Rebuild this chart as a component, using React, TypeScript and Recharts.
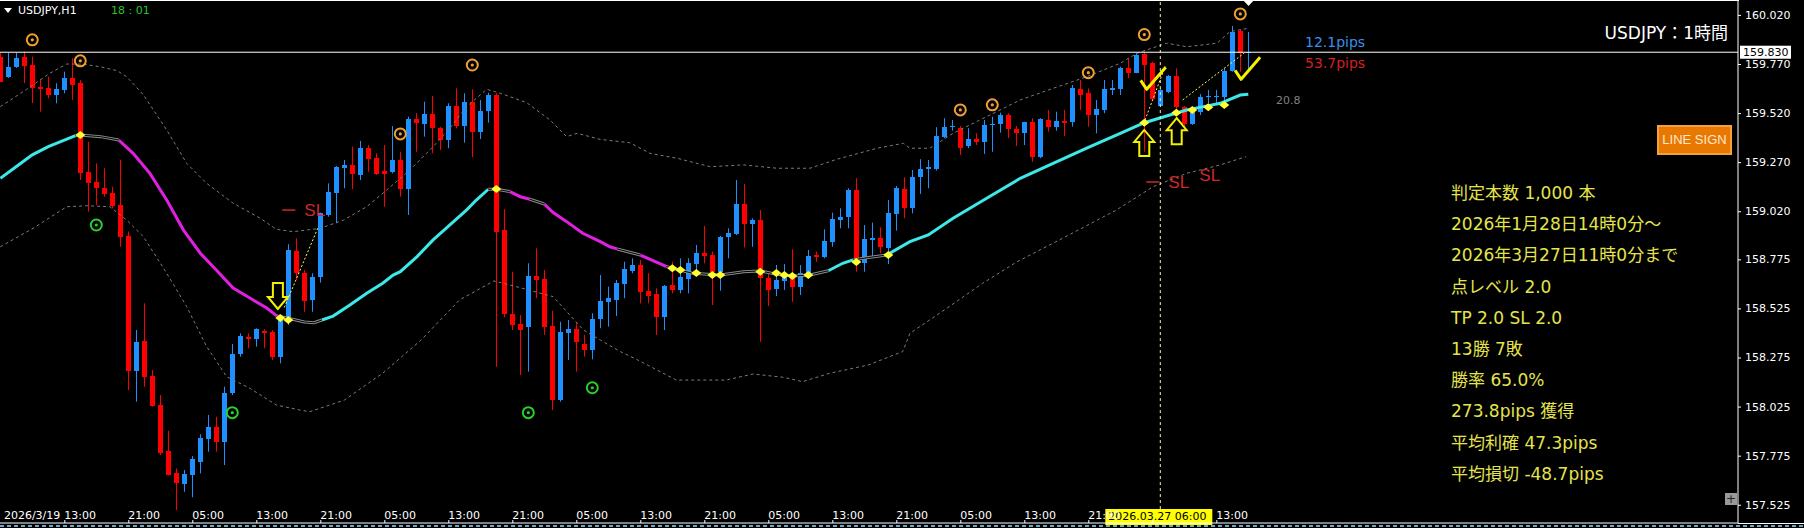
import React from "react";
import { ComposedChart, Bar, Line, Scatter, XAxis, YAxis, ReferenceLine } from "recharts";

const FONT = '"DejaVu Sans", "Noto Sans CJK JP", sans-serif';

// USDJPY H1 bars (index 0 = leftmost bar)
const opens = [
  159.807, 159.705, 159.755, 159.807, 159.765, 159.651, 159.646, 159.612, 159.638, 159.697,
  159.672, 159.221, 159.17, 159.137, 159.111, 159.052, 158.894, 158.208, 158.359, 158.181,
  158.033, 157.799, 157.685, 157.63, 157.676, 157.744, 157.86, 157.919, 157.846, 158.093,
  158.293, 158.378, 158.368, 158.411, 158.405, 158.279, 158.466, 158.817, 158.704, 158.568,
  158.687, 159.001, 159.114, 159.242, 159.255, 159.205, 159.344, 159.293, 159.225, 159.221,
  159.281, 159.133, 159.49, 159.464, 159.515, 159.445, 159.383, 159.558, 159.456, 159.578,
  159.425, 159.532, 159.612, 158.924, 158.497, 158.446, 158.429, 158.69, 158.676, 158.437,
  158.058, 158.398, 158.422, 158.342, 158.313, 158.47, 158.559, 158.568, 158.649, 158.717,
  158.746, 158.615, 158.598, 158.483, 158.644, 158.619, 158.673, 158.751, 158.806, 158.797,
  158.712, 158.887, 158.904, 159.057, 158.955, 158.975, 158.678, 158.622, 158.666, 158.7,
  158.636, 158.695, 158.797, 158.785, 158.865, 158.975, 158.992, 159.128, 158.758, 158.873,
  158.882, 158.831, 159.006, 159.132, 159.038, 159.193, 159.234, 159.234, 159.4, 159.448,
  159.445, 159.352, 159.388, 159.374, 159.458, 159.463, 159.51, 159.437, 159.417, 159.476,
  159.295, 159.485, 159.451, 159.481, 159.476, 159.641, 159.621, 159.51, 159.536, 159.638,
  159.641, 159.748, 159.726, 159.821, 159.774, 159.556, 159.629, 159.709, 159.55, 159.464,
  159.527, 159.6, 159.6, 159.603, 159.736, 159.94, 159.825,
];
const highs = [
  159.826, 159.826, 159.826, 159.833, 159.807, 159.694, 159.705, 159.672, 159.731, 159.799,
  159.688, 159.374, 159.264, 159.239, 159.145, 159.281, 158.916, 158.415, 158.551, 158.211,
  158.084, 157.902, 157.71, 157.702, 157.773, 157.884, 157.982, 157.973, 158.126, 158.344,
  158.398, 158.398, 158.424, 158.419, 158.415, 158.491, 158.852, 158.882, 158.721, 158.704,
  159.013, 159.162, 159.25, 159.281, 159.349, 159.378, 159.357, 159.315, 159.357, 159.454,
  159.323, 159.502, 159.519, 159.578, 159.607, 159.45, 159.57, 159.646, 159.621, 159.641,
  159.587, 159.624, 159.621, 159.03, 158.712, 158.491, 158.755, 158.831, 158.721, 158.513,
  158.457, 158.466, 158.452, 158.39, 158.5, 158.695, 158.636, 158.67, 158.763, 158.78,
  158.772, 158.704, 158.627, 158.644, 158.763, 158.78, 158.78, 158.848, 158.945, 158.814,
  158.894, 158.933, 159.179, 159.159, 158.984, 159.026, 158.704, 158.746, 158.751, 158.826,
  158.746, 158.823, 158.814, 158.928, 159.013, 159.035, 159.137, 159.188, 158.95, 158.962,
  158.938, 159.077, 159.149, 159.193, 159.23, 159.285, 159.281, 159.448, 159.494, 159.485,
  159.454, 159.443, 159.417, 159.485, 159.502, 159.522, 159.519, 159.454, 159.476, 159.494,
  159.494, 159.536, 159.527, 159.536, 159.663, 159.688, 159.646, 159.587, 159.688, 159.688,
  159.756, 159.799, 159.825, 159.833, 159.782, 159.646, 159.714, 159.748, 159.556, 159.553,
  159.617, 159.638, 159.638, 159.748, 159.964, 159.947, 159.933,
];
const lows = [
  159.678, 159.699, 159.75, 159.673, 159.571, 159.527, 159.595, 159.57, 159.621, 159.587,
  159.179, 159.018, 159.052, 159.094, 159.035, 158.839, 158.109, 158.05, 158.126, 158.024,
  157.778, 157.674, 157.498, 157.591, 157.563, 157.685, 157.795, 157.795, 157.727, 158.084,
  158.279, 158.322, 158.33, 158.322, 158.262, 158.245, 158.44, 158.67, 158.508, 158.508,
  158.656, 158.992, 158.959, 159.137, 159.132, 159.179, 159.221, 159.205, 159.043, 159.213,
  159.094, 159.001, 159.323, 159.4, 159.315, 159.332, 159.341, 159.442, 159.369, 159.295,
  159.388, 159.471, 158.228, 158.48, 158.415, 158.186, 158.203, 158.577, 158.39, 158.007,
  158.05, 158.262, 158.203, 158.279, 158.266, 158.424, 158.432, 158.486, 158.577, 158.704,
  158.551, 158.551, 158.39, 158.415, 158.602, 158.602, 158.602, 158.704, 158.755, 158.542,
  158.615, 158.78, 158.899, 158.836, 158.839, 158.355, 158.537, 158.588, 158.619, 158.559,
  158.593, 158.678, 158.763, 158.78, 158.839, 158.933, 158.933, 158.712, 158.712, 158.788,
  158.806, 158.751, 158.921, 158.984, 159.009, 159.108, 159.137, 159.227, 159.392, 159.43,
  159.307, 159.341, 159.357, 159.312, 159.323, 159.42, 159.392, 159.352, 159.357, 159.272,
  159.29, 159.425, 159.43, 159.403, 159.451, 159.536, 159.451, 159.417, 159.519, 159.612,
  159.612, 159.697, 159.723, 159.323, 159.587, 159.553, 159.621, 159.51, 159.443, 159.46,
  159.51, 159.57, 159.561, 159.57, 159.731, 159.731, 159.739,
];
const closes = [
  159.68, 159.756, 159.801, 159.76, 159.648, 159.643, 159.612, 159.641, 159.697, 159.663,
  159.213, 159.162, 159.137, 159.108, 159.048, 158.89, 158.206, 158.355, 158.177, 158.029,
  157.787, 157.676, 157.634, 157.68, 157.756, 157.866, 157.919, 157.846, 158.093, 158.293,
  158.384, 158.368, 158.419, 158.401, 158.279, 158.475, 158.823, 158.704, 158.564, 158.683,
  159.009, 159.12, 159.247, 159.255, 159.21, 159.344, 159.286, 159.21, 159.208, 159.281,
  159.132, 159.49, 159.468, 159.515, 159.442, 159.383, 159.558, 159.456, 159.578, 159.425,
  159.532, 159.612, 158.916, 158.497, 158.44, 158.415, 158.69, 158.67, 158.432, 158.058,
  158.406, 158.422, 158.355, 158.313, 158.473, 158.564, 158.576, 158.656, 158.724, 158.746,
  158.61, 158.588, 158.483, 158.639, 158.619, 158.683, 158.758, 158.806, 158.792, 158.712,
  158.887, 158.911, 159.057, 158.955, 158.975, 158.678, 158.619, 158.67, 158.704, 158.636,
  158.707, 158.792, 158.788, 158.868, 158.979, 158.989, 159.128, 158.758, 158.877, 158.882,
  158.836, 159.009, 159.137, 159.035, 159.196, 159.234, 159.244, 159.403, 159.448, 159.454,
  159.341, 159.386, 159.374, 159.46, 159.464, 159.51, 159.437, 159.42, 159.476, 159.298,
  159.488, 159.451, 159.481, 159.471, 159.646, 159.612, 159.51, 159.539, 159.641, 159.646,
  159.748, 159.726, 159.816, 159.765, 159.59, 159.638, 159.709, 159.55, 159.464, 159.527,
  159.603, 159.607, 159.607, 159.736, 159.935, 159.825, 159.83,
];

const priceTicks = [160.02, 159.77, 159.52, 159.27, 159.02, 158.775, 158.525, 158.275, 158.025, 157.775, 157.525];
const timeTicks = [8, 16, 24, 32, 40, 48, 56, 64, 72, 80, 88, 96, 104, 112, 120, 128, 136, 144, 152];
const timeLabels = [
  "2026/3/19 13:00", "21:00", "05:00", "13:00", "21:00", "05:00", "13:00", "21:00", "05:00", "13:00",
  "21:00", "05:00", "13:00", "21:00", "05:00", "13:00", "21:00", "05:00", "13:00",
];

// moving average, split by colour state: [bar index, price]
const maCyan = [
  [[0, 159.188], [2.1, 159.25], [4, 159.307], [6, 159.349], [9.4, 159.405]],
  [[40.2, 158.466], [41.6, 158.486], [43.7, 158.542], [45.8, 158.602], [47.8, 158.653], [49.1, 158.695],
    [50, 158.712], [52.1, 158.789], [54.1, 158.874], [56.2, 158.95], [58.3, 159.027], [59.5, 159.077], [61, 159.132]],
  [[103.5, 158.717], [105.3, 158.755], [106.6, 158.772]],
  [[110.8, 158.797], [113.7, 158.865], [116, 158.899], [119.1, 158.984], [123.3, 159.086], [127.5, 159.188],
    [131.6, 159.264], [135.8, 159.341], [140, 159.417], [143, 159.471], [146.2, 159.51], [148.3, 159.536],
    [150.4, 159.553], [152.5, 159.57], [155, 159.612], [156, 159.616]],
];
const maMagenta = [
  [[14.8, 159.383], [16.6, 159.315], [18.7, 159.213], [20.8, 159.077], [22.9, 158.924], [25, 158.806],
    [27, 158.721], [29.1, 158.629], [31.2, 158.578], [33.3, 158.527], [34.6, 158.486]],
  [[63.7, 159.12], [65, 159.094], [66.2, 159.081]],
  [[68, 159.057], [69.1, 159.013], [70.8, 158.967], [72.8, 158.908], [75, 158.865], [76.2, 158.839], [77.1, 158.828]],
  [[80, 158.797], [83.3, 158.738]],
];
const maGray = [
  [[9.4, 159.405], [10, 159.408], [12.5, 159.4], [14.8, 159.383]],
  [[34.6, 158.486], [36, 158.475], [38, 158.456], [39.2, 158.452], [40.2, 158.466]],
  [[61, 159.132], [62, 159.132], [63.7, 159.12]],
  [[66.2, 159.081], [68, 159.057]],
  [[77.1, 158.828], [80, 158.797]],
  [[83.3, 158.738], [86.5, 158.704], [90, 158.695], [92.9, 158.712], [95, 158.716], [97, 158.699],
    [99.1, 158.69], [101.2, 158.695], [103.5, 158.717]],
  [[106.6, 158.772], [108.5, 158.784], [110.8, 158.797]],
];

const upperBand = [
  [0, 159.553], [3.3, 159.641], [6.2, 159.723], [8.3, 159.77], [10.4, 159.769], [12.5, 159.756], [14.6, 159.736],
  [15.8, 159.705], [17.9, 159.612], [20.8, 159.434], [23.3, 159.264], [25.8, 159.162], [29.1, 159.061], [32.5, 158.984],
  [34.5, 158.928], [36.6, 158.916], [40, 158.933], [42.9, 158.975], [45.8, 159.043], [48.3, 159.128], [51.2, 159.23],
  [54.1, 159.349], [56.2, 159.443], [58.3, 159.553], [60.8, 159.641], [62.5, 159.621], [65.8, 159.573], [68.7, 159.485],
  [70.8, 159.4], [72.1, 159.417], [75, 159.386], [78.7, 159.369], [81.2, 159.315], [84.6, 159.29], [88.7, 159.247],
  [92.9, 159.256], [97.1, 159.239], [101.2, 159.239], [104.6, 159.285], [109.6, 159.341], [112.9, 159.366],
  [113.7, 159.341], [116.2, 159.341], [119.1, 159.417], [123.3, 159.502], [127.5, 159.587], [131.6, 159.646],
  [135.8, 159.705], [140, 159.774], [142.1, 159.825], [145.8, 159.876], [148.3, 159.858], [152.1, 159.876],
  [153.7, 159.935], [156, 159.952],
];
const lowerBand = [
  [0, 158.839], [4.1, 158.933], [8.3, 159.043], [10.8, 159.048], [13.7, 159.043], [15.8, 158.975], [17.9, 158.89],
  [20.8, 158.704], [23.3, 158.534], [25.8, 158.33], [28.3, 158.177], [31.2, 158.118], [34.5, 158.033], [37.5, 158.007],
  [38.7, 157.999], [43, 158.058], [47.8, 158.195], [52.6, 158.364], [57.4, 158.568], [61.7, 158.665], [64.5, 158.636],
  [69.1, 158.585], [72.9, 158.415], [75, 158.364], [77.5, 158.305], [79.7, 158.262], [84.5, 158.16], [90.7, 158.16],
  [94.1, 158.191], [97.9, 158.174], [100.3, 158.152], [103.7, 158.195], [108.5, 158.237], [112.8, 158.305],
  [113.7, 158.398], [118, 158.517], [122.8, 158.653], [127.1, 158.763], [132.4, 158.874], [139.5, 159.026],
  [144.1, 159.145], [148.3, 159.213], [152.5, 159.256], [155.7, 159.298],
];
const tpLines = [
  [[35.5, 158.53], [39.7, 158.935]],
  [[143.1, 159.485], [145.6, 159.757]],
  [[147.8, 159.587], [155.5, 159.826]],
];

const topRings = [[4, 159.893], [10, 159.786], [50, 159.414], [59, 159.765], [120, 159.536], [124, 159.562], [136, 159.726], [143, 159.92], [155, 160.025]];
const bottomRings = [[12, 158.95], [29, 157.994], [66, 157.994], [74, 158.121]];
const diamonds = [
  [10, 159.408], [35, 158.476], [36, 158.466], [62, 159.133], [84, 158.73], [85, 158.721], [87, 158.706],
  [89, 158.695], [90, 158.695], [95, 158.712], [97, 158.706], [98, 158.695], [99, 158.69], [101, 158.695],
  [107, 158.762], [111, 158.797], [143, 159.471], [147, 159.522], [149, 159.536], [151, 159.55], [153, 159.561],
];
const arrows = [
  { i: 34.7, p: 158.522, dir: "down" },
  { i: 143, p: 159.434, dir: "up" },
  { i: 147.05, p: 159.494, dir: "up" },
];
const checks = [[143.3, 159.641], [155.1, 159.692]];
const stopLabels = [
  { i: 36, p: 159.026, dash: true },
  { i: 144, p: 159.169, dash: true },
  { i: 150, p: 159.205, dash: false },
];
const currentPrice = 159.83;
const crossBar = 145;
const crossLabel = "2026.03.27 06:00";

const statLines = [
  "判定本数 1,000 本",
  "2026年1月28日14時0分～",
  "2026年3月27日11時0分まで",
  "点レベル 2.0",
  "TP 2.0 SL 2.0",
  "13勝 7敗",
  "勝率 65.0%",
  "273.8pips 獲得",
  "平均利確 47.3pips",
  "平均損切 -48.7pips",
];

const Y_MIN = 157.432;
const Y_MAX = 160.096;

const candles = opens.map((o, i) => ({ i, o, h: highs[i], l: lows[i], c: closes[i] }));

type Pt = { i: number; p: number | null };
const toPts = (a: number[][]): Pt[] => a.map(([i, p]) => ({ i, p }));
const joinSegs = (segs: number[][][]): Pt[] =>
  segs.flatMap((s, k) => {
    if (k === 0) return toPts(s);
    const prev = segs[k - 1];
    return [{ i: (prev[prev.length - 1][0] + s[0][0]) / 2, p: null }, ...toPts(s)];
  });

function Candle(props: any) {
  const { x, y, width, height, payload } = props;
  if (x == null || y == null || !payload) return null;
  const { o, h, l, c } = payload;
  const top = Math.min(y, y + height);
  const span = Math.abs(height);
  const py = (v: number) => top + ((h - v) / (h - l)) * span;
  const cx = Math.round(x + width / 2);
  const col = c >= o ? "#1e90ff" : "#ff0000";
  const b0 = Math.round(py(Math.max(o, c)));
  const b1 = Math.max(b0 + 1, Math.round(py(Math.min(o, c))));
  return (
    <g>
      <line x1={cx + 0.5} x2={cx + 0.5} y1={top} y2={top + span} stroke={col} />
      <rect x={cx - 2} y={b0} width={5} height={b1 - b0} fill={col} />
    </g>
  );
}

const Ring = (color: string) => (props: any) => (
  <g>
    <circle cx={props.cx} cy={props.cy} r={5.5} fill="none" stroke={color} strokeWidth={2} />
    <circle cx={props.cx} cy={props.cy} r={1.6} fill={color} />
  </g>
);

function Diamond(props: any) {
  const { cx, cy } = props;
  return <polygon points={`${cx - 5},${cy} ${cx},${cy - 4} ${cx + 5},${cy} ${cx},${cy + 4}`} fill="#ffff30" />;
}

function Arrow(props: any) {
  const { cx, cy, payload } = props;
  const s = payload.dir === "down" ? -1 : 1;
  const d = [
    [0, 0], [-10, 12], [-5, 12], [-5, 26], [5, 26], [5, 12], [10, 12],
  ].map(([dx, dy]) => `${cx + dx},${cy + s * dy}`).join(" ");
  return <polygon points={d} fill="none" stroke="#f2f200" strokeWidth={2} />;
}

function Check(props: any) {
  const { cx, cy } = props;
  return (
    <path
      d={`M${cx - 6},${cy - 9} L${cx},${cy} L${cx + 19},${cy - 22}`}
      fill="none"
      stroke="#f5f000"
      strokeWidth={3}
      strokeLinejoin="round"
    />
  );
}

function StopLabel(props: any) {
  const { cx, cy, payload } = props;
  return (
    <g fill="#d02828" fontFamily='"Liberation Sans", Arial, sans-serif' fontSize={17}>
      {payload.dash && <line x1={cx - 6} x2={cx + 7} y1={cy} y2={cy} stroke="#d02828" strokeWidth={1.5} />}
      <text x={payload.dash ? cx + 16 : cx - 1} y={cy} dy="0.36em">SL</text>
    </g>
  );
}

function PriceTick(props: any) {
  const { x, y, payload } = props;
  return (
    <g>
      <line x1={x} x2={x + 3} y1={y + 0.5} y2={y + 0.5} stroke="#fff" />
      <text x={x + 7} y={y} dy="0.36em" fill="#fff" fontSize={11} fontFamily={FONT}>
        {payload.value.toFixed(3)}
      </text>
    </g>
  );
}

function TimeTick(props: any) {
  const { x, y, payload } = props;
  const label = timeLabels[timeTicks.indexOf(payload.value)] ?? "";
  // the crosshair date box sits on top of this label in the terminal
  const hidden = Math.abs(payload.value - crossBar) < 4;
  const parts = label.split(" ");
  const base = y - 4.5;
  const common = { fill: "#fff", fontSize: 11, fontFamily: FONT };
  return (
    <g>
      <line x1={x + 0.5} x2={x + 0.5} y1={y - 3} y2={y} stroke="#fff" />
      {!hidden && parts.length > 1 && (
        <text x={x - 4} y={base} textAnchor="end" {...common}>{parts[0]}</text>
      )}
      {!hidden && <text x={x} y={base} {...common}>{parts[parts.length - 1]}</text>}
    </g>
  );
}

const PriceTag = (props: any) => {
  const { x, y, width } = props.viewBox;
  return (
    <g>
      <rect x={x + width + 2} y={y - 6.5} width={51} height={13} fill="#fff" />
      <text x={x + width + 5} y={y} dy="0.36em" fill="#000" fontSize={11} fontFamily={FONT}>
        {currentPrice.toFixed(3)}
      </text>
    </g>
  );
};

const CrossTag = (props: any) => {
  const { x, y, height } = props.viewBox;
  const b = y + height;
  return (
    <g>
      <rect x={x - 55} y={b - 14} width={107} height={16} fill="#ffff00" />
      <text x={x - 52} y={b - 3} fill="#000" fontSize={11} fontFamily={FONT}>{crossLabel}</text>
    </g>
  );
};

const abs = (left: number, top: number, extra: React.CSSProperties = {}): React.CSSProperties => ({
  position: "absolute",
  left,
  top,
  whiteSpace: "nowrap",
  fontFamily: FONT,
  ...extra,
});

export default function App() {
  const cyan = joinSegs(maCyan);
  const magenta = joinSegs(maMagenta);
  const gray = joinSegs(maGray);
  const tp = joinSegs(tpLines);
  return (
    <div style={{ position: "absolute", left: 0, top: 0, width: 1804, height: 528, background: "#000", overflow: "hidden" }}>
      <ComposedChart width={1804} height={528} data={candles} margin={{ top: 0, right: 0, bottom: 0, left: 0 }}>
        <XAxis
          type="number"
          dataKey="i"
          domain={[-0.0375, 217.2125]}
          allowDataOverflow
          ticks={timeTicks}
          interval={0}
          tick={<TimeTick />}
          tickLine={false}
          tickSize={0}
          tickMargin={0}
          height={5}
          axisLine={{ stroke: "#fff" }}
        />
        <YAxis
          type="number"
          orientation="right"
          width={66}
          domain={[Y_MIN, Y_MAX]}
          allowDataOverflow
          ticks={priceTicks}
          interval={0}
          tick={<PriceTick />}
          tickLine={false}
          tickSize={0}
          tickMargin={0}
          axisLine={{ stroke: "#fff" }}
        />
        <Line data={toPts(upperBand)} dataKey="p" stroke="#7c7c7c" strokeDasharray="3 3" dot={false} activeDot={false} isAnimationActive={false} />
        <Line data={toPts(lowerBand)} dataKey="p" stroke="#7c7c7c" strokeDasharray="3 3" dot={false} activeDot={false} isAnimationActive={false} />
        <Line data={cyan} dataKey="p" stroke="#3ce8e8" strokeWidth={3} dot={false} activeDot={false} isAnimationActive={false} />
        <Line data={magenta} dataKey="p" stroke="#e020e0" strokeWidth={3} dot={false} activeDot={false} isAnimationActive={false} />
        <Line data={gray} dataKey="p" stroke="#8a8a8a" strokeWidth={3} dot={false} activeDot={false} isAnimationActive={false} />
        <Line data={gray} dataKey="p" stroke="#000" strokeWidth={1} dot={false} activeDot={false} isAnimationActive={false} />
        <Scatter data={stopLabels} dataKey="p" shape={StopLabel} isAnimationActive={false} />
        <Bar dataKey={(d: any) => [d.l, d.h]} shape={Candle} barSize={5} isAnimationActive={false} />
        <Line data={tp} dataKey="p" stroke="#ffff66" strokeDasharray="2 2" dot={false} activeDot={false} isAnimationActive={false} />
        <Scatter data={toPts(diamonds)} dataKey="p" shape={Diamond} isAnimationActive={false} />
        <Scatter data={toPts(topRings)} dataKey="p" shape={Ring("#f0a030")} isAnimationActive={false} />
        <Scatter data={toPts(bottomRings)} dataKey="p" shape={Ring("#2ad02a")} isAnimationActive={false} />
        <Scatter data={toPts(checks)} dataKey="p" shape={Check} isAnimationActive={false} />
        <Scatter data={arrows} dataKey="p" shape={Arrow} isAnimationActive={false} />
        <ReferenceLine y={currentPrice} stroke="#fff" label={PriceTag} />
        <ReferenceLine
          segment={[{ x: crossBar, y: 157.503 }, { x: crossBar, y: Y_MAX }]}
          stroke="#f0f0b8"
          strokeDasharray="3 3"
        />
        <ReferenceLine x={crossBar} stroke="none" label={CrossTag} />
      </ComposedChart>

      <div style={abs(0, 0, { width: 1739, height: 1, background: "#fff" })} />
      <div style={abs(1738, 523, { width: 66, height: 1, background: "#fff" })} />
      <div style={abs(0, 525, { width: 1804, height: 2, background: "repeating-linear-gradient(90deg, #6aa8cc 0 4px, transparent 4px 7px)" })} />
      <svg style={abs(1243, 0)} width={12} height={7}>
        <polygon points="0,0 11,0 5.5,6" fill="#fff" />
      </svg>
      <svg style={abs(4, 7)} width={9} height={8}>
        <polygon points="0,1 8,1 4,6" fill="#fff" />
      </svg>
      <div style={abs(18, 4, { color: "#fff", fontSize: 11, lineHeight: "14px" })}>USDJPY,H1</div>
      <div style={abs(111, 4, { color: "#2bc42b", fontSize: 11, lineHeight: "14px" })}>18 : 01</div>
      <div style={abs(0, 22, { width: 1728, textAlign: "right", color: "#fff", fontSize: 17, lineHeight: "22px" })}>USDJPY：1時間</div>
      <div style={abs(1305, 33, { color: "#3a8ee8", fontSize: 14, lineHeight: "18px" })}>12.1pips</div>
      <div style={abs(1305, 54, { color: "#d42020", fontSize: 14, lineHeight: "18px" })}>53.7pips</div>
      <div style={abs(1276, 94, { color: "#808080", fontSize: 11, lineHeight: "14px" })}>20.8</div>
      <div
        style={abs(1657, 125, {
          width: 75,
          height: 30,
          boxSizing: "border-box",
          background: "#e87800",
          border: "2px solid #f4a040",
          color: "#fbe8d0",
          fontFamily: '"Liberation Sans", Arial, sans-serif',
          fontSize: 13,
          lineHeight: "26px",
          textAlign: "center",
        })}
      >
        LINE SIGN
      </div>
      {statLines.map((s, k) => (
        <div key={k} style={abs(1451, 181 + k * 31.2, { color: "#e4e44c", fontSize: 17, lineHeight: "24px" })}>
          {s}
        </div>
      ))}
      <div
        style={abs(1725, 493, {
          width: 12,
          height: 12,
          background: "#9a9a9a",
          color: "#222",
          fontSize: 12,
          lineHeight: "12px",
          textAlign: "center",
        })}
      >
        +
      </div>
    </div>
  );
}
